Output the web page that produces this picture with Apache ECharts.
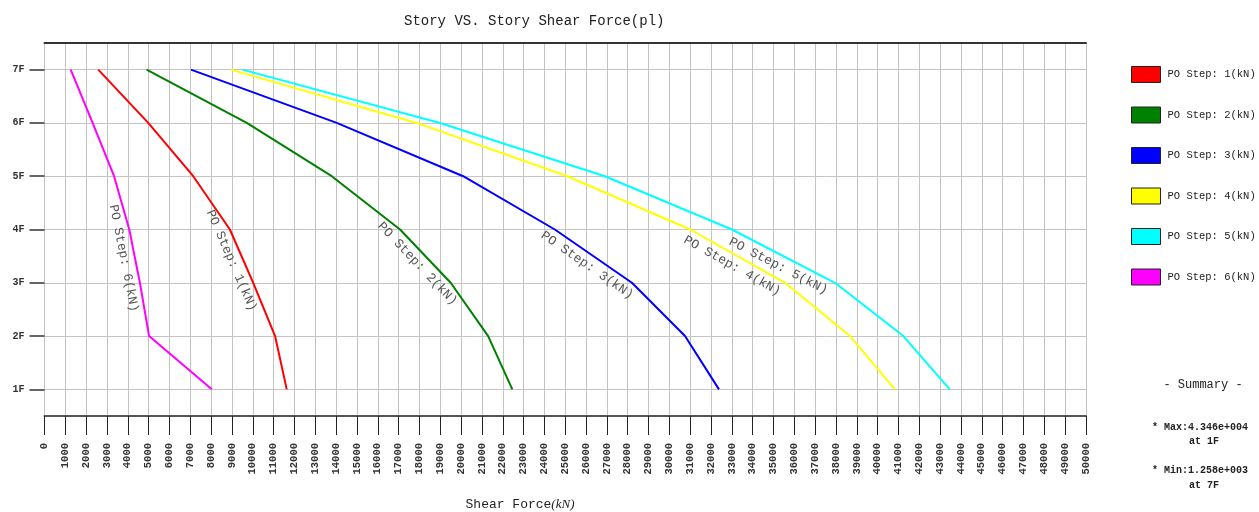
<!DOCTYPE html>
<html>
<head>
<meta charset="utf-8">
<title>Story VS. Story Shear Force(pl)</title>
<script src="https://cdn.jsdelivr.net/npm/echarts@6/dist/echarts.min.js"></script>
<style>
  html, body { margin: 0; padding: 0; background: #fff; }
  #chart { width: 1259px; height: 512px; }
</style>
</head>
<body>
<div id="chart"></div>
<script>
// Stories, bottom to top
const stories = ['1F', '2F', '3F', '4F', '5F', '6F', '7F'];

// Story shear force (kN) per pushover step, listed 1F .. 7F
const step1 = [11630, 11070, 10020, 8900, 7140, 4980, 2580];
const step2 = [22460, 21300, 19500, 17070, 13790, 9710, 4900];
const step3 = [32380, 30750, 28200, 24500, 20100, 14030, 7030];
const step4 = [40830, 38670, 35550, 31000, 25100, 17870, 8940];
const step5 = [43460, 41230, 37950, 33000, 26900, 18990, 9500];
const step6 = [8030, 5020, 4580, 4070, 3340, 2310, 1258];

const stepNames = ['PO Step: 1(kN)', 'PO Step: 2(kN)', 'PO Step: 3(kN)',
                   'PO Step: 4(kN)', 'PO Step: 5(kN)', 'PO Step: 6(kN)'];
const stepValues = [step1, step2, step3, step4, step5, step6];
const stepColors = ['#ff0000', '#008000', '#0000ff', '#ffff00', '#00ffff', '#ff00ff'];

// Shear force axis
const xMin = 0, xMax = 50000, xStep = 1000;

const MONO = '"Liberation Mono", "DejaVu Sans Mono", monospace';

const chart = echarts.init(document.getElementById('chart'), null, { renderer: 'canvas' });

const series = stepValues.map((vals, s) => ({
  name: stepNames[s],
  type: 'line',
  data: vals.map((v, i) => [v, i + 1]),
  symbol: 'none',
  silent: true,
  animation: false,
  lineStyle: { color: stepColors[s], width: 2 },
  itemStyle: { color: stepColors[s] }
}));

// Summary: extreme values over every step and story
function sci(v) {
  const e = Math.floor(Math.log10(Math.abs(v)));
  const m = v / Math.pow(10, e);
  return m.toFixed(3) + 'e' + (e < 0 ? '-' : '+') + String(Math.abs(e)).padStart(3, '0');
}
let maxV = -Infinity, maxS = 0, minV = Infinity, minS = 0;
stepValues.forEach(vals => vals.forEach((v, i) => {
  if (v > maxV) { maxV = v; maxS = i; }
  if (v < minV) { minV = v; minS = i; }
}));

const storyTicks = stories.map((_, i) => i + 1);

const option = {
  animation: false,
  backgroundColor: '#ffffff',
  title: {
    text: 'Story VS. Story Shear Force(pl)',
    left: 399,
    top: 9,
    textStyle: { fontFamily: MONO, fontSize: 14, fontWeight: 'normal', color: '#222' }
  },
  legend: {
    orient: 'vertical',
    left: 1131,
    top: 66,
    padding: 0,
    icon: 'rect',
    itemWidth: 29,
    itemHeight: 16,
    itemGap: 23.5,
    selectedMode: false,
    data: stepNames,
    itemStyle: { borderColor: '#222', borderWidth: 1 },
    textStyle: { fontFamily: MONO, fontSize: 10.5, color: '#222', padding: [0, 0, 0, 2] }
  },
  grid: { left: 44.5, right: 173, top: 43, bottom: 96, containLabel: false },
  xAxis: [{
    type: 'value',
    min: xMin,
    max: xMax,
    interval: xStep,
    position: 'bottom',
    axisLine: { show: true, lineStyle: { color: '#555', width: 2 } },
    axisTick: { show: true, length: 19, lineStyle: { color: '#222', width: 1 } },
    axisLabel: {
      rotate: 90,
      margin: 27,
      fontFamily: MONO,
      fontSize: 10.5,
      fontWeight: 'bold',
      color: '#333',
      showMinLabel: true,
      showMaxLabel: true,
      hideOverlap: false,
      formatter: v => String(Math.round(v))
    },
    splitLine: { show: true, lineStyle: { color: '#c4c4c4', width: 1 } }
  }, {
    type: 'value',
    min: xMin,
    max: xMax,
    position: 'top',
    axisLine: { show: true, lineStyle: { color: '#333', width: 2 } },
    axisTick: { show: false },
    axisLabel: { show: false },
    splitLine: { show: false }
  }],
  yAxis: {
    type: 'value',
    min: 0.5,
    max: 7.5,
    axisLine: { show: true, lineStyle: { color: '#c4c4c4', width: 1 } },
    axisTick: { show: true, length: 15, customValues: storyTicks, lineStyle: { color: '#333', width: 1.5 } },
    axisLabel: {
      customValues: storyTicks,
      margin: 20,
      fontFamily: MONO,
      fontSize: 10,
      fontWeight: 'bold',
      color: '#333',
      formatter: v => stories[Math.round(v) - 1] || ''
    },
    splitLine: { show: true, lineStyle: { color: '#c4c4c4', width: 1 } }
  },
  series: series
};

chart.setOption(option);

// Step labels drawn along each curve, between 4F and 3F, just below the line
const labelFrom = 4, labelTo = 3, labelOffset = 11;
const curveLabels = stepValues.map((vals, s) => {
  const a = chart.convertToPixel({ gridIndex: 0 }, [vals[labelFrom - 1], labelFrom]);
  const b = chart.convertToPixel({ gridIndex: 0 }, [vals[labelTo - 1], labelTo]);
  const ang = Math.atan2(b[1] - a[1], b[0] - a[0]);
  const mx = (a[0] + b[0]) / 2, my = (a[1] + b[1]) / 2;
  return {
    type: 'text',
    x: mx - labelOffset * Math.sin(ang),
    y: my + labelOffset * Math.cos(ang),
    rotation: -ang,
    silent: true,
    style: {
      text: stepNames[s],
      align: 'center',
      verticalAlign: 'middle',
      font: '13px ' + MONO,
      fill: '#555'
    }
  };
});

const summary = [
  { type: 'text', x: 1203, y: 385, style: { text: '- Summary -', align: 'center', verticalAlign: 'middle', font: '12px ' + MONO, fill: '#222' } },
  { type: 'text', x: 1152, y: 427, style: { text: '* Max:' + sci(maxV), align: 'left', verticalAlign: 'middle', font: 'bold 10px ' + MONO, fill: '#222' } },
  { type: 'text', x: 1204, y: 441, style: { text: 'at ' + stories[maxS], align: 'center', verticalAlign: 'middle', font: 'bold 10px ' + MONO, fill: '#222' } },
  { type: 'text', x: 1152, y: 470, style: { text: '* Min:' + sci(minV), align: 'left', verticalAlign: 'middle', font: 'bold 10px ' + MONO, fill: '#222' } },
  { type: 'text', x: 1204, y: 485, style: { text: 'at ' + stories[minS], align: 'center', verticalAlign: 'middle', font: 'bold 10px ' + MONO, fill: '#222' } }
];

const axisName = {
  type: 'text',
  x: 520,
  y: 505,
  style: {
    text: '{a|Shear Force}{b|(kN)}',
    align: 'center',
    verticalAlign: 'middle',
    rich: {
      a: { fontFamily: MONO, fontSize: 13, fill: '#222' },
      b: { fontFamily: '"Liberation Serif", serif', fontStyle: 'italic', fontSize: 13, fill: '#222' }
    }
  }
};

chart.setOption({ graphic: curveLabels.concat(summary, [axisName]) });
</script>
</body>
</html>
